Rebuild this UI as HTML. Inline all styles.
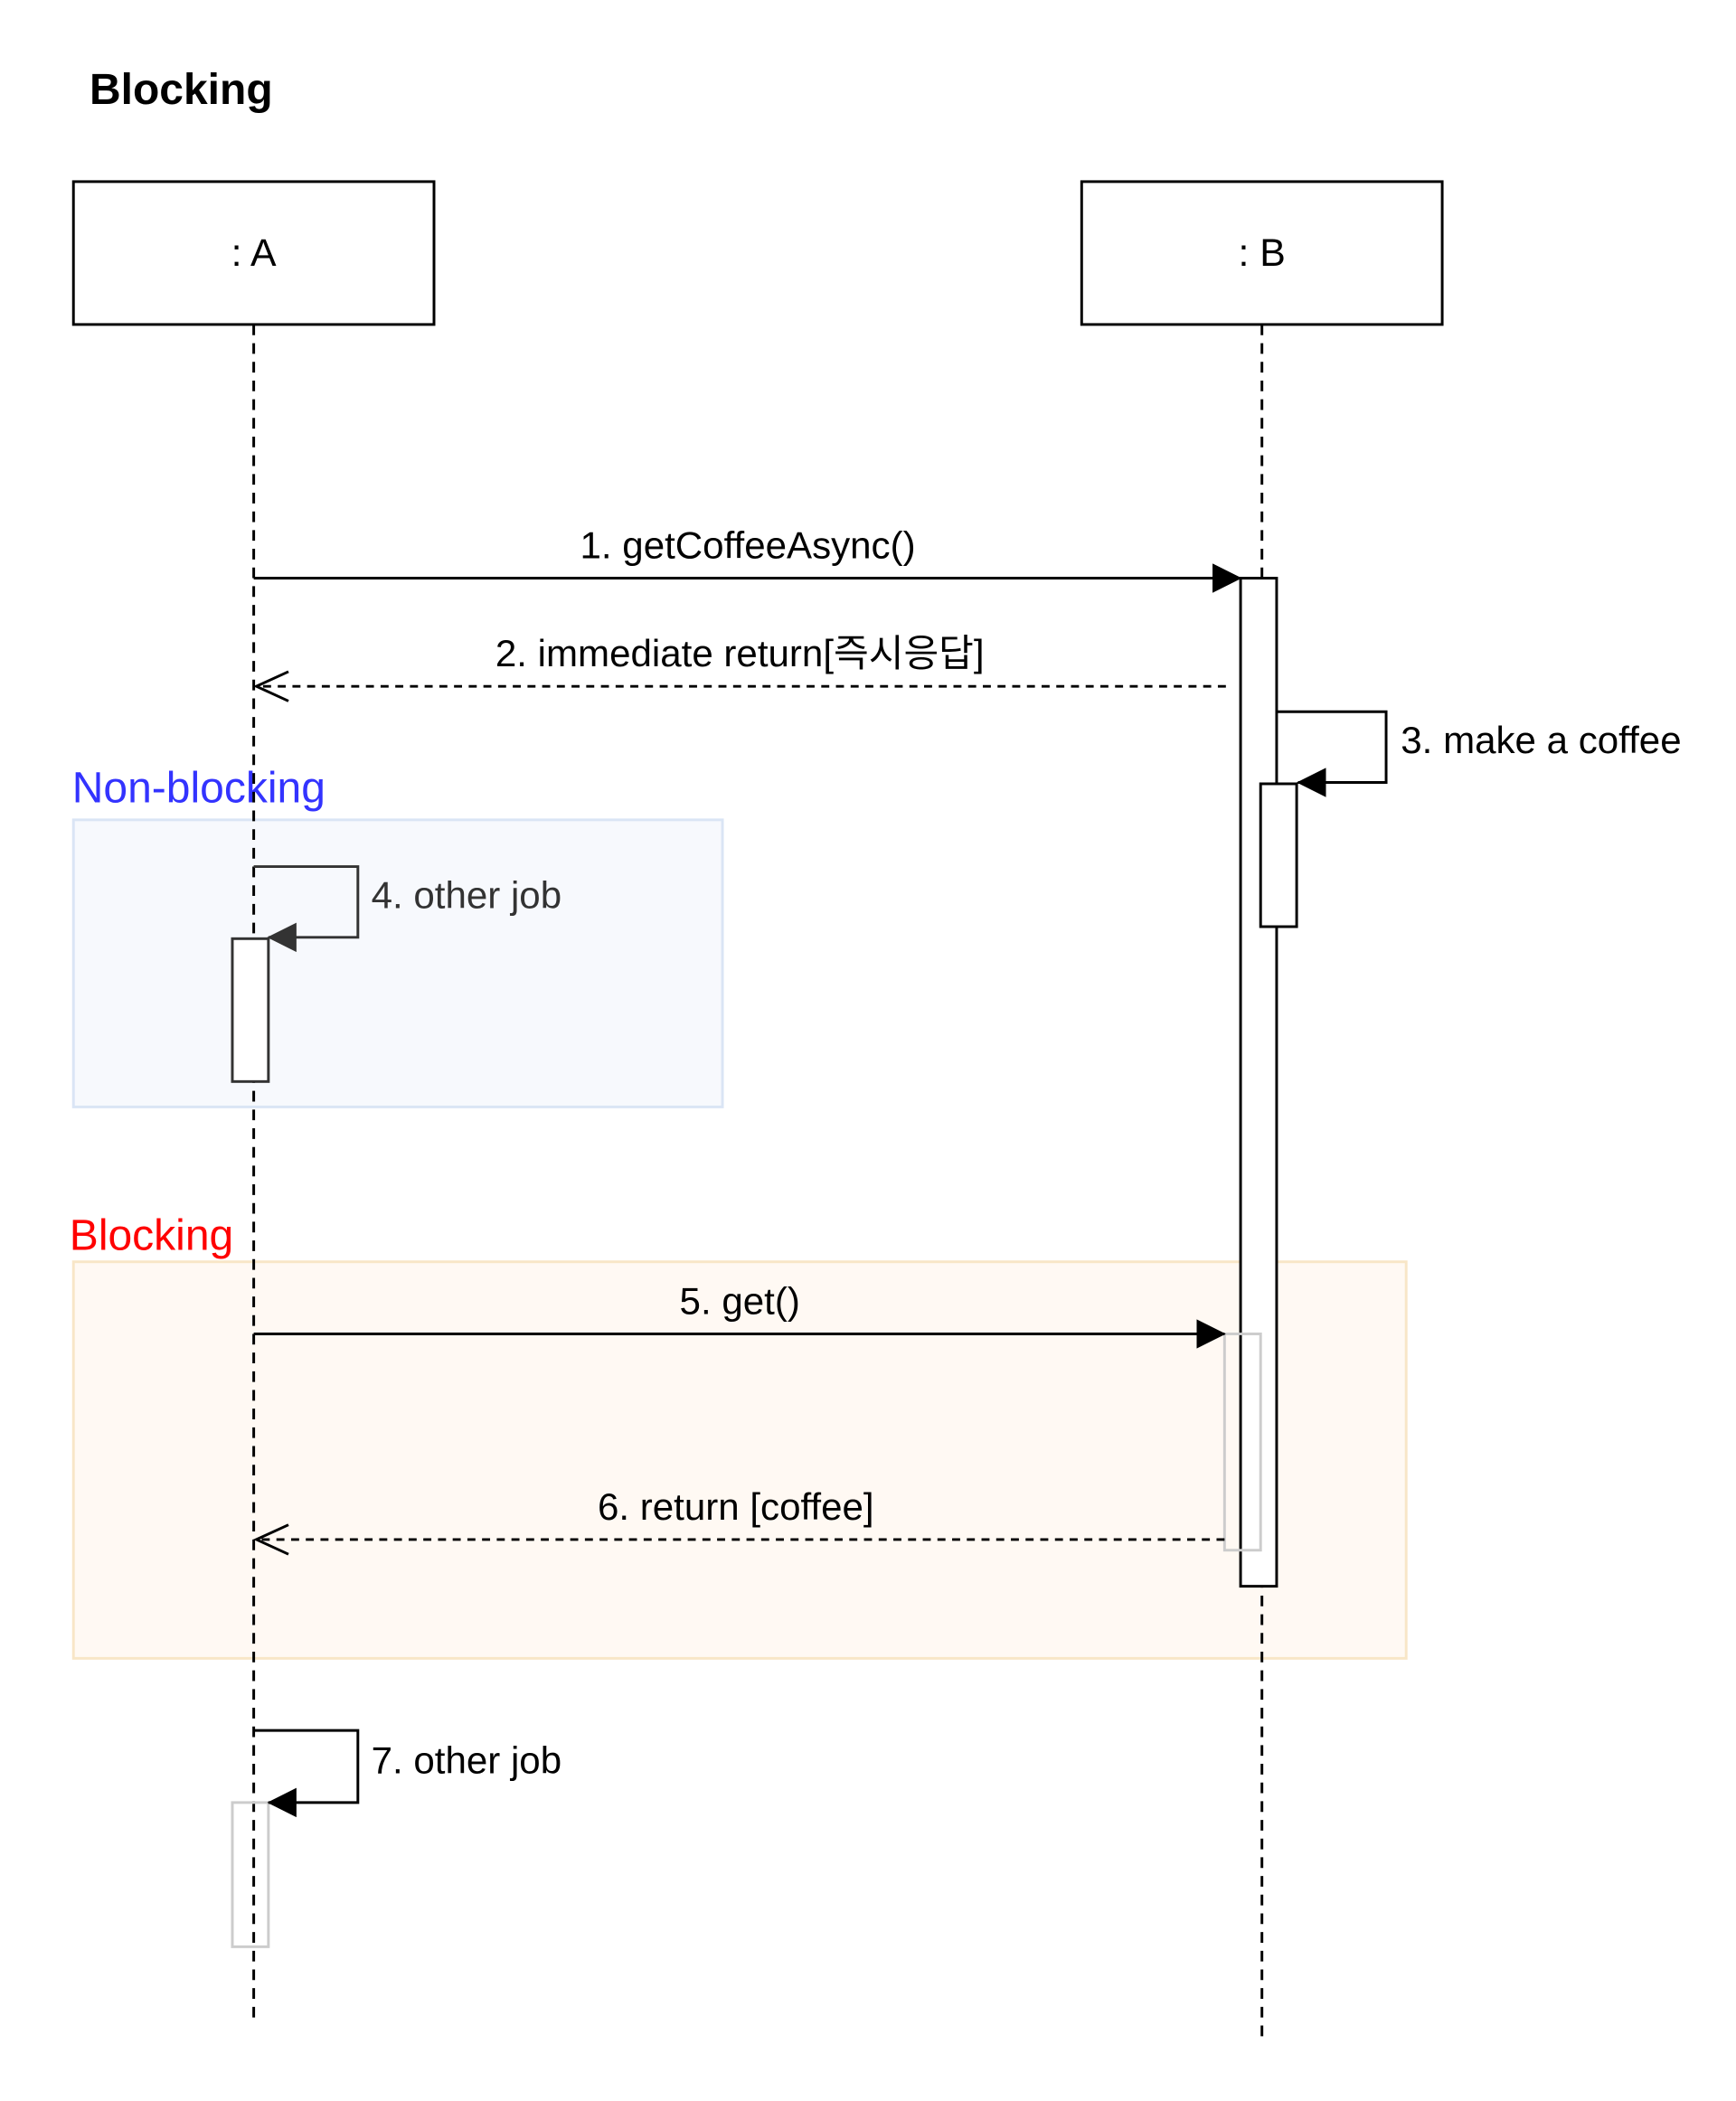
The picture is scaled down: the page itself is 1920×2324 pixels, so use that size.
<!DOCTYPE html>
<html><head><meta charset="utf-8"><style>
html,body{margin:0;padding:0;background:#fff;}
svg{display:block;}
text{font-family:"Liberation Sans","Noto Sans CJK KR",sans-serif;}
</style></head><body>
<svg width="1920" height="2324" viewBox="0 0 1300 1573.5" xmlns="http://www.w3.org/2000/svg">
<defs>
<marker id="fa" markerWidth="22" markerHeight="22" refX="21" refY="11" orient="auto" markerUnits="userSpaceOnUse"><path d="M0,0 L22,11 L0,22 z" fill="#000"/></marker>
<marker id="fb" markerWidth="22" markerHeight="22" refX="21" refY="11" orient="auto" markerUnits="userSpaceOnUse"><path d="M0,0 L22,11 L0,22 z" fill="#333"/></marker>
</defs>
<rect width="1300" height="1573.5" fill="#fff"/>
<text x="67" y="78" font-size="32.5" font-weight="bold">Blocking</text>

<rect x="55" y="614" width="486" height="215" fill="#f7f9fd" stroke="#dae5f5" stroke-width="2"/>
<rect x="55" y="945" width="998" height="297" fill="#fff9f3" stroke="#f8e6c7" stroke-width="2"/>
<text x="54" y="601" font-size="32.5" fill="#3333ff">Non-blocking</text>
<text x="52" y="936" font-size="32.5" fill="#ff0000">Blocking</text>

<rect x="55" y="136" width="270" height="107" fill="#fff" stroke="#000" stroke-width="2"/>
<text x="190" y="199" font-size="29" text-anchor="middle">: A</text>
<rect x="810" y="136" width="270" height="107" fill="#fff" stroke="#000" stroke-width="2"/>
<text x="945" y="199" font-size="29" text-anchor="middle">: B</text>

<line x1="190" y1="243" x2="190" y2="1512" stroke="#000" stroke-width="2" stroke-dasharray="8,6"/>
<line x1="945" y1="243" x2="945" y2="1530" stroke="#000" stroke-width="2" stroke-dasharray="8,6"/>

<rect x="929" y="433" width="27" height="755" fill="#fff" stroke="#000" stroke-width="2"/>
<rect x="944" y="587" width="27" height="107" fill="#fff" stroke="#000" stroke-width="2"/>
<rect x="917" y="999" width="27" height="162" fill="none" stroke="#ccc" stroke-width="2"/>

<line x1="190" y1="433" x2="929" y2="433" stroke="#000" stroke-width="2" marker-end="url(#fa)"/>
<text x="560" y="418" font-size="28.5" text-anchor="middle">1. getCoffeeAsync()</text>
<line x1="918" y1="514" x2="192" y2="514" stroke="#000" stroke-width="2" stroke-dasharray="6,5"/>
<path d="M216,503 L192,514 L216,525" fill="none" stroke="#000" stroke-width="2"/>
<text x="554" y="499" font-size="28.5" text-anchor="middle">2. immediate return[즉시응답]</text>
<polyline points="956,533 1038,533 1038,586 972,586" fill="none" stroke="#000" stroke-width="2" marker-end="url(#fa)"/>
<text x="1049" y="564" font-size="28.5">3. make a coffee</text>
<rect x="174" y="703" width="27" height="107" fill="#fff" stroke="#333" stroke-width="2"/>
<polyline points="190,649 268,649 268,702 201,702" fill="none" stroke="#333" stroke-width="2" marker-end="url(#fb)"/>
<text x="278" y="680" font-size="28.5" fill="#333">4. other job</text>
<line x1="190" y1="999" x2="917" y2="999" stroke="#000" stroke-width="2" marker-end="url(#fa)"/>
<text x="554" y="984" font-size="28.5" text-anchor="middle">5. get()</text>
<line x1="917" y1="1153" x2="192" y2="1153" stroke="#000" stroke-width="2" stroke-dasharray="6,5"/>
<path d="M216,1142 L192,1153 L216,1164" fill="none" stroke="#000" stroke-width="2"/>
<text x="551" y="1138" font-size="28.5" text-anchor="middle">6. return [coffee]</text>
<rect x="174" y="1350" width="27" height="108" fill="none" stroke="#ccc" stroke-width="2"/>
<polyline points="190,1296 268,1296 268,1350 201,1350" fill="none" stroke="#000" stroke-width="2" marker-end="url(#fa)"/>
<text x="278" y="1328" font-size="28.5">7. other job</text>
</svg>
</body></html>
